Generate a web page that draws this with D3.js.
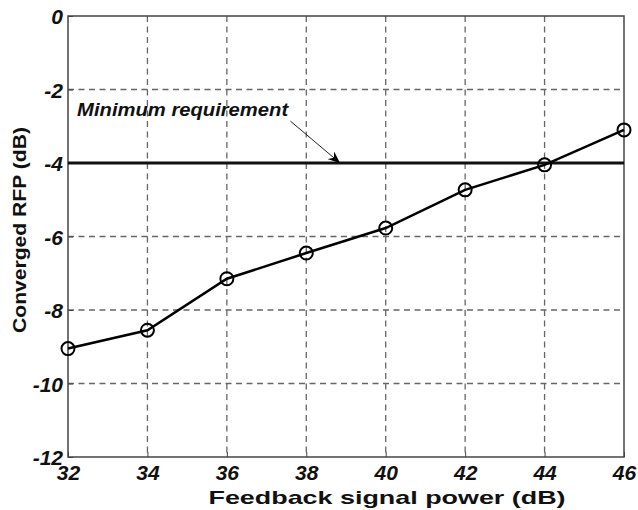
<!DOCTYPE html>
<html>
<head>
<meta charset="utf-8">
<script src="https://cdn.jsdelivr.net/npm/d3@7"></script>
<style>
  html, body { margin: 0; padding: 0; background: #fff; }
  text { font-family: "Liberation Sans", Arial, sans-serif; }
</style>
</head>
<body>
<svg id="chart" width="638" height="510"></svg>
<script>
const powers = [32, 34, 36, 38, 40, 42, 44, 46];
const rfp = [-9.05, -8.55, -7.15, -6.45, -5.77, -4.73, -4.05, -3.1];
const xTicks = [32, 34, 36, 38, 40, 42, 44, 46];
const yTicks = [0, -2, -4, -6, -8, -10, -12];
const requirement = -4;
const annotationLabel = "Minimum requirement";
const xLabel = "Feedback signal power (dB)";
const yLabel = "Converged RFP (dB)";

const svg = d3.select("#chart");
const m = { left: 68, right: 624, top: 16, bottom: 457 };
const x = d3.scaleLinear().domain([32, 46]).range([m.left, m.right]);
const y = d3.scaleLinear().domain([-12, 0]).range([m.bottom, m.top]);

// grid
const grid = svg.append("g").attr("stroke", "#666").attr("stroke-width", 1.3).attr("stroke-dasharray", "6,4.5");
grid.selectAll("line.v").data(xTicks.slice(1, -1)).join("line")
  .attr("x1", d => x(d)).attr("x2", d => x(d)).attr("y1", m.top).attr("y2", m.bottom);
grid.selectAll("line.h").data(yTicks.slice(1, -1)).join("line")
  .attr("x1", m.left).attr("x2", m.right).attr("y1", d => y(d)).attr("y2", d => y(d));

// axes
const xAxis = svg.append("g").attr("transform", `translate(0,${m.bottom})`)
  .call(d3.axisBottom(x).tickValues(xTicks).tickSize(-5).tickPadding(8).tickFormat(d3.format("d")));
const yAxis = svg.append("g").attr("transform", `translate(${m.left},0)`)
  .call(d3.axisLeft(y).tickValues(yTicks).tickSize(-5).tickPadding(5).tickFormat(d => d === 0 ? "0" : "-" + Math.abs(d)));
[xAxis, yAxis].forEach(a => {
  a.select(".domain").remove();
  a.selectAll(".tick line").attr("stroke", "#444").attr("stroke-width", 1);
  a.selectAll(".tick text").attr("fill", "#111").style("font-size", "21px")
    .style("font-weight", "bold").style("font-style", "italic");
});
yAxis.selectAll(".tick text").attr("dy", "0.36em");

// box
svg.append("rect").attr("x", m.left).attr("y", m.top)
  .attr("width", m.right - m.left).attr("height", m.bottom - m.top)
  .attr("fill", "none").attr("stroke", "#444").attr("stroke-width", 1.5);

// requirement line
svg.append("line").attr("x1", x(32)).attr("x2", x(46))
  .attr("y1", y(requirement)).attr("y2", y(requirement))
  .attr("stroke", "#111").attr("stroke-width", 3);

// data line
svg.append("path").datum(powers.map((p, i) => [p, rfp[i]]))
  .attr("fill", "none").attr("stroke", "#000").attr("stroke-width", 2.5)
  .attr("d", d3.line().x(d => x(d[0])).y(d => y(d[1])));
svg.selectAll("circle.pt").data(powers.map((p, i) => [p, rfp[i]])).join("circle")
  .attr("cx", d => x(d[0])).attr("cy", d => y(d[1])).attr("r", 6.5)
  .attr("fill", "none").attr("stroke", "#000").attr("stroke-width", 2);

// annotation
svg.append("defs").append("marker").attr("id", "arr")
  .attr("viewBox", "0 0 12 10").attr("refX", 12).attr("refY", 5)
  .attr("markerWidth", 12).attr("markerHeight", 10).attr("markerUnits", "userSpaceOnUse")
  .attr("orient", "auto")
  .append("path").attr("d", "M0,0 L12,5 L0,10 L4,5 Z").attr("fill", "#000");
svg.append("line")
  .attr("x1", x(37.6)).attr("y1", y(-2.86)).attr("x2", x(38.85)).attr("y2", y(-4))
  .attr("stroke", "#222").attr("stroke-width", 1).attr("marker-end", "url(#arr)");
svg.append("text").attr("x", x(32.23)).attr("y", y(-2.72))
  .attr("textLength", 211).attr("lengthAdjust", "spacingAndGlyphs")
  .style("font-size", "19px").style("font-weight", "bold").style("font-style", "italic")
  .attr("fill", "#111").text(annotationLabel);

// axis labels
svg.append("text").attr("x", 387).attr("y", 504).attr("text-anchor", "middle")
  .attr("textLength", 357).attr("lengthAdjust", "spacingAndGlyphs")
  .style("font-size", "19px").style("font-weight", "bold").attr("fill", "#111").text(xLabel);
svg.append("text").attr("transform", "translate(26,230) rotate(-90)").attr("text-anchor", "middle")
  .attr("textLength", 206).attr("lengthAdjust", "spacingAndGlyphs")
  .style("font-size", "18px").style("font-weight", "bold").attr("fill", "#111").text(yLabel);
</script>
</body>
</html>
